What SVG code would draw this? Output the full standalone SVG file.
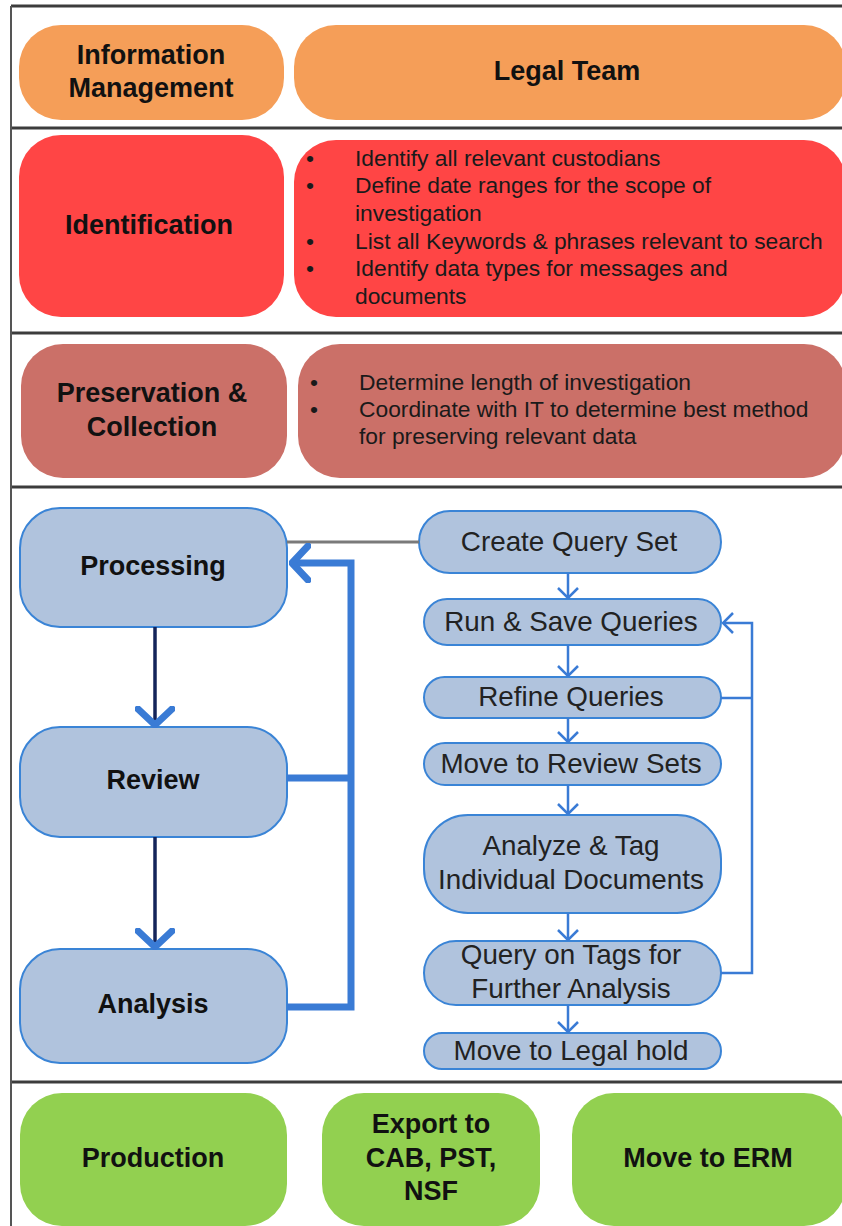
<svg xmlns="http://www.w3.org/2000/svg" width="842" height="1226" viewBox="0 0 842 1226">
<defs>
<style>
.frame{stroke:#3c3c3c;stroke-width:3;fill:none}
.lbl{font-family:"Liberation Sans",Arial,sans-serif;font-weight:bold;font-size:27px;fill:#111;text-anchor:middle}
.bul{font-family:"Liberation Sans",Arial,sans-serif;font-size:22.8px;fill:#1a1a1a}
.qt{font-family:"Liberation Sans",Arial,sans-serif;font-size:27.8px;fill:#222;text-anchor:middle}
.orange{fill:#F59E58}
.red{fill:#FF4545}
.pres{fill:#CB7068}
.green{fill:#92D050}
.blue{fill:#B0C3DD;stroke:#3A84D6;stroke-width:2}
.thin{stroke:#3A7BD5;stroke-width:2.5;fill:none}
.thick{stroke:#3A7BD5;stroke-width:7;fill:none}
.navy{stroke:#14245A;stroke-width:3.5;fill:none}
</style>
<marker id="chevThin" markerUnits="userSpaceOnUse" viewBox="0 0 12 22" markerWidth="12" markerHeight="22" refX="11" refY="11" orient="auto">
<path d="M1,1 L11,11 L1,21" fill="none" stroke="#3A7BD5" stroke-width="2.5"/>
</marker>
<marker id="chevThick" markerUnits="userSpaceOnUse" viewBox="0 0 22 40" markerWidth="22" markerHeight="40" refX="19" refY="20" orient="auto">
<path d="M3,3 L19,20 L3,37" fill="none" stroke="#3A7BD5" stroke-width="7" stroke-linecap="round" stroke-linejoin="round"/>
</marker>
</defs>
<rect width="842" height="1226" fill="#fff"/>

<g id="frame">
<line class="frame" x1="11" y1="6" x2="842" y2="6"/>
<line class="frame" x1="11" y1="128" x2="842" y2="128"/>
<line class="frame" x1="11" y1="333" x2="842" y2="333"/>
<line class="frame" x1="11" y1="487" x2="842" y2="487"/>
<line class="frame" x1="11" y1="1082" x2="842" y2="1082"/>
<line x1="11" y1="6" x2="11" y2="1226" stroke="#555" stroke-width="2"/>
</g>

<g id="info-management">
<rect class="orange" x="19" y="25" width="265" height="95" rx="42"/>
<text class="lbl" x="151" y="64">Information</text>
<text class="lbl" x="151" y="97">Management</text>
</g>
<g id="legal-team">
<rect class="orange" x="294" y="25" width="552" height="95" rx="42"/>
<text class="lbl" x="567" y="80">Legal Team</text>
</g>

<g id="identification">
<rect class="red" x="19" y="135" width="265" height="182" rx="42"/>
<text class="lbl" x="149" y="234">Identification</text>
</g>
<g id="identification-tasks">
<rect class="red" x="294" y="140" width="552" height="177" rx="42"/>
<g class="bul">
<text x="306" y="166">•</text><text x="355" y="166">Identify all relevant custodians</text>
<text x="306" y="193">•</text><text x="355" y="193">Define date ranges for the scope of</text>
<text x="355" y="221">investigation</text>
<text x="306" y="249">•</text><text x="355" y="249">List all Keywords &amp; phrases relevant to search</text>
<text x="306" y="276">•</text><text x="355" y="276">Identify data types for messages and</text>
<text x="355" y="304">documents</text>
</g>
</g>

<g id="preservation">
<rect class="pres" x="21" y="344" width="266" height="134" rx="42"/>
<text class="lbl" x="152" y="402">Preservation &amp;</text>
<text class="lbl" x="152" y="436">Collection</text>
</g>
<g id="preservation-tasks">
<rect class="pres" x="298" y="344" width="548" height="134" rx="42"/>
<g class="bul">
<text x="310" y="390">•</text><text x="359" y="390">Determine length of investigation</text>
<text x="310" y="417">•</text><text x="359" y="417">Coordinate with IT to determine best method</text>
<text x="359" y="444">for preserving relevant data</text>
</g>
</g>

<g id="processing">
<rect class="blue" x="20" y="508" width="267" height="119" rx="40"/>
<text class="lbl" x="153" y="575">Processing</text>
</g>
<g id="review">
<rect class="blue" x="20" y="727" width="267" height="110" rx="40"/>
<text class="lbl" x="153" y="789">Review</text>
</g>
<g id="analysis">
<rect class="blue" x="20" y="949" width="267" height="114" rx="40"/>
<text class="lbl" x="153" y="1013">Analysis</text>
</g>

<g id="create-query-set">
<rect class="blue" x="419" y="511" width="302" height="62" rx="31"/>
<text class="qt" x="569" y="551">Create Query Set</text>
</g>
<g id="run-save-queries">
<rect class="blue" x="424" y="599" width="297" height="46" rx="23"/>
<text class="qt" x="571" y="631">Run &amp; Save Queries</text>
</g>
<g id="refine-queries">
<rect class="blue" x="424" y="677" width="297" height="41" rx="20.5"/>
<text class="qt" x="571" y="706">Refine Queries</text>
</g>
<g id="move-to-review-sets">
<rect class="blue" x="424" y="743" width="297" height="42" rx="21"/>
<text class="qt" x="571" y="773">Move to Review Sets</text>
</g>
<g id="analyze-tag">
<rect class="blue" x="424" y="815" width="297" height="98" rx="44"/>
<text class="qt" x="571" y="855">Analyze &amp; Tag</text>
<text class="qt" x="571" y="889">Individual Documents</text>
</g>
<g id="query-on-tags">
<rect class="blue" x="424" y="941" width="297" height="64" rx="32"/>
<text class="qt" x="571" y="964">Query on Tags for</text>
<text class="qt" x="571" y="998">Further Analysis</text>
</g>
<g id="move-to-legal-hold">
<rect class="blue" x="424" y="1033" width="297" height="36" rx="18"/>
<text class="qt" x="571" y="1060">Move to Legal hold</text>
</g>

<g id="production">
<rect class="green" x="20" y="1093" width="267" height="133" rx="42"/>
<text class="lbl" x="153" y="1167">Production</text>
</g>
<g id="export">
<rect class="green" x="322" y="1093" width="218" height="133" rx="42"/>
<text class="lbl" x="431" y="1133">Export to</text>
<text class="lbl" x="431" y="1167">CAB, PST,</text>
<text class="lbl" x="431" y="1200">NSF</text>
</g>
<g id="move-to-erm">
<rect class="green" x="572" y="1093" width="274" height="133" rx="42"/>
<text class="lbl" x="708" y="1167">Move to ERM</text>
</g>

<g id="connectors">
<line x1="287" y1="542" x2="419" y2="542" stroke="#7a7a7a" stroke-width="3"/>
<line class="navy" x1="155" y1="627" x2="155" y2="725" marker-end="url(#chevThick)"/>
<line class="navy" x1="155" y1="837" x2="155" y2="947" marker-end="url(#chevThick)"/>
<path class="thick" d="M287,1007 H351 V563 H292" marker-end="url(#chevThick)"/>
<path class="thick" d="M287,778 H351"/>
<line class="thin" x1="568" y1="573" x2="568" y2="598" marker-end="url(#chevThin)"/>
<line class="thin" x1="568" y1="645" x2="568" y2="676" marker-end="url(#chevThin)"/>
<line class="thin" x1="568" y1="718" x2="568" y2="742" marker-end="url(#chevThin)"/>
<line class="thin" x1="568" y1="785" x2="568" y2="814" marker-end="url(#chevThin)"/>
<line class="thin" x1="568" y1="913" x2="568" y2="940" marker-end="url(#chevThin)"/>
<line class="thin" x1="568" y1="1005" x2="568" y2="1032" marker-end="url(#chevThin)"/>
<path class="thin" d="M721,973 H752 V623 H723" marker-end="url(#chevThin)"/>
<path class="thin" d="M721,698 H752"/>
</g>
</svg>
